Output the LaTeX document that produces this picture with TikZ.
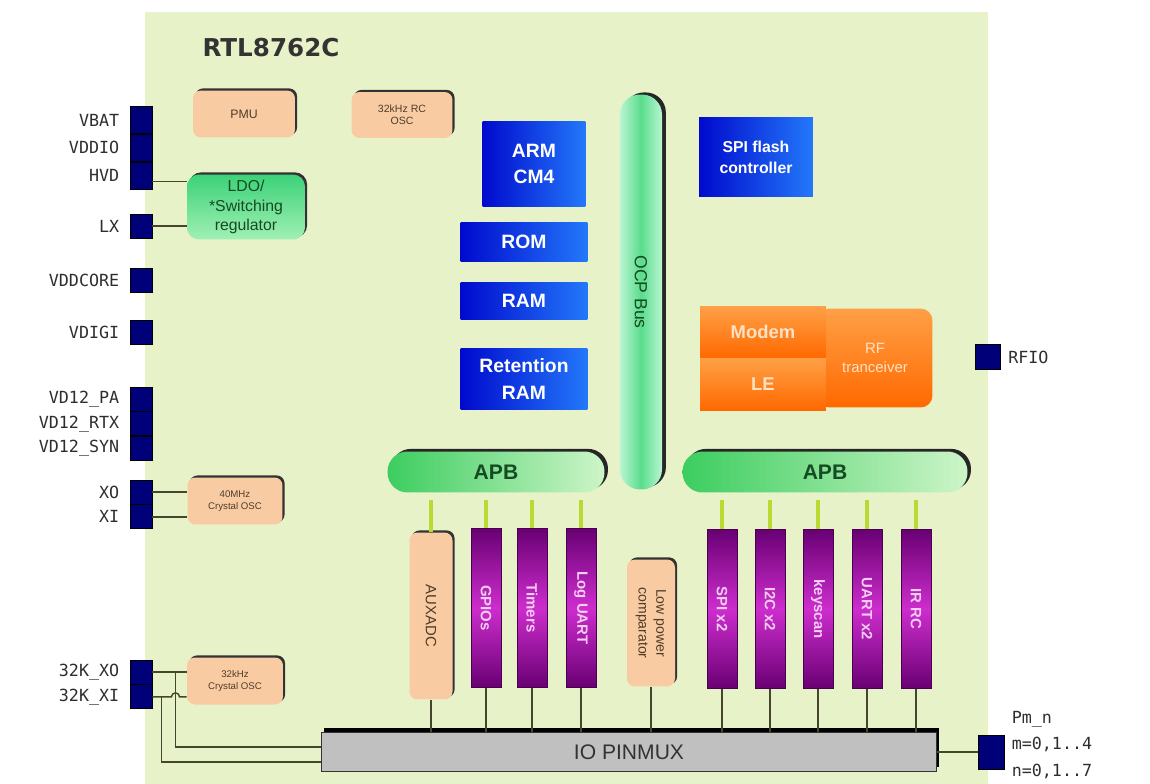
\documentclass[tikz,border=0pt]{standalone}
\usepackage{fontspec}
\setmainfont{Liberation Sans}
\newfontfamily\pinfont{DejaVu Sans Mono}
\newfontfamily\titlefont{DejaVu Sans}
\usepackage{tikz}
\usetikzlibrary{positioning}
\usetikzlibrary{calc}
\usetikzlibrary{shadows}

\definecolor{chipbg}{RGB}{232,242,200}
\definecolor{pinblue}{RGB}{0,0,120}
\definecolor{peach}{RGB}{249,203,163}
\definecolor{peachtext}{RGB}{80,60,40}
\definecolor{blueA}{RGB}{0,10,205}
\definecolor{blueB}{RGB}{35,120,250}
\definecolor{orangeA}{RGB}{255,160,70}
\definecolor{orangeB}{RGB}{255,105,0}
\definecolor{orangetext}{RGB}{255,225,195}
\definecolor{purpA}{RGB}{105,0,115}
\definecolor{purpB}{RGB}{205,45,205}
\definecolor{purptext}{RGB}{245,205,245}
\definecolor{busgreen}{RGB}{60,205,95}
\definecolor{buspale}{RGB}{205,245,200}
\definecolor{ocpmid}{RGB}{90,220,140}
\definecolor{ocpside}{RGB}{185,245,210}
\definecolor{ldoA}{RGB}{60,210,120}
\definecolor{ldoB}{RGB}{160,240,180}
\definecolor{greentext}{RGB}{20,75,35}
\definecolor{stubgreen}{RGB}{185,218,50}
\definecolor{wirecol}{RGB}{70,70,45}
\definecolor{muxgray}{RGB}{192,192,192}

\tikzset{
  pinsq/.style={draw=black, fill=pinblue, line width=0.5pt, minimum width=0.44cm, minimum height=0.48cm, inner sep=0pt},
  pinlbl/.style={inner sep=0pt, text=black!82, font=\pinfont\fontsize{9.5}{15}\selectfont},
  softbox/.style={fill=peach, rounded corners=0.16cm, general shadow={fill=black!80, shadow xshift=1.2pt, shadow yshift=1.2pt}, text=peachtext, align=center, inner sep=1pt},
  bluebox/.style={left color=blueA, right color=blueB, text=white, align=center, inner sep=0pt, font=\fontsize{11}{15}\selectfont\bfseries},
  orbox/.style={top color=orangeA, bottom color=orangeB, text=orangetext, inner sep=0pt, font=\fontsize{10.5}{13}\selectfont\bfseries},
  periph/.style={top color=purpA, bottom color=purpA, middle color=purpB, draw=purpA!70!black, line width=0.4pt, minimum width=0.6cm, minimum height=3.18cm, inner sep=0pt, text=purptext, font=\fontsize{8.5}{10}\selectfont\bfseries},
  apb/.style={left color=busgreen, right color=buspale, rounded corners=0.4cm, general shadow={fill=black!85, shadow xshift=2pt, shadow yshift=1.5pt}, minimum height=0.82cm, text=greentext, font=\fontsize{12}{14}\selectfont\bfseries},
  wire/.style={draw=wirecol, line width=0.8pt},
  stub/.style={draw=stubgreen, line width=2.6pt, shorten <=4pt}
}

\begin{document}
\begin{tikzpicture}[x=0.02cm, y=-0.02cm]
\useasboundingbox (0,0) rectangle (1150,784);
\fill[chipbg] (145,12) rectangle (988,784);
\node (title) at (271,48) {\titlefont\fontsize{14}{16}\selectfont\bfseries\color{black!80}RTL8762C};

\node (vbat) [pinsq, minimum height=0.54cm] at (141,120) {};
\node (vddio) [pinsq, minimum height=0.54cm, below=0pt of vbat] {};
\node (hvd) [pinsq, minimum height=0.54cm, below=0pt of vddio] {};
\node (lx) [pinsq] at (141,226) {};
\node (vddcore) [pinsq] at (141,280) {};
\node (vdigi) [pinsq] at (141,332) {};
\node (vdpa) [pinsq] at (141,399) {};
\node (vdrtx) [pinsq, below=0pt of vdpa] {};
\node (vdsyn) [pinsq, below=0pt of vdrtx] {};
\node (xo) [pinsq] at (141,492) {};
\node (xi) [pinsq, below=0pt of xo] {};
\node (xo32) [pinsq] at (141,672) {};
\node (xi32) [pinsq, below=0pt of xo32] {};
\node (rfio) [pinsq, minimum width=0.5cm, minimum height=0.5cm] at (988,357) {};
\node (pm) [pinsq, minimum width=0.52cm, minimum height=0.68cm] at (991,752) {};

\node [pinlbl, left=0.2cm of vbat] {VBAT};
\node [pinlbl, left=0.2cm of vddio] {VDDIO};
\node [pinlbl, left=0.2cm of hvd] {HVD};
\node [pinlbl, left=0.2cm of lx] {LX};
\node [pinlbl, left=0.2cm of vddcore] {VDDCORE};
\node [pinlbl, left=0.2cm of vdigi] {VDIGI};
\node [pinlbl, left=0.2cm of vdpa] {VD12\_PA};
\node [pinlbl, left=0.2cm of vdrtx] {VD12\_RTX};
\node [pinlbl, left=0.2cm of vdsyn] {VD12\_SYN};
\node [pinlbl, left=0.2cm of xo] {XO};
\node [pinlbl, left=0.2cm of xi] {XI};
\node [pinlbl, left=0.2cm of xo32] {32K\_XO};
\node [pinlbl, left=0.2cm of xi32] {32K\_XI};
\node [pinlbl, right=0.14cm of rfio] {RFIO};
\node (pmlbl) [pinlbl, right=0.14cm of pm, yshift=0.14cm, align=left] {Pm\_n\\m=0,1..4\\n=0,1..7};

\node (pmu) [softbox, minimum width=2.04cm, minimum height=0.94cm, font=\fontsize{7}{8}\selectfont] at (244,114) {PMU};
\node (rcosc) [softbox, minimum width=2.02cm, minimum height=0.92cm, font=\fontsize{6}{7}\selectfont] at (402,115) {32kHz RC\\OSC};
\node (ldo) [top color=ldoA, bottom color=ldoB, rounded corners=0.24cm, general shadow={fill=black!80, shadow xshift=1.2pt, shadow yshift=1.2pt}, minimum width=2.36cm, minimum height=1.3cm, inner sep=0pt, align=center, text=greentext, font=\fontsize{9}{11}\selectfont] at (246,207) {LDO/\\*Switching\\regulator};
\node (osc40) [softbox, minimum width=1.9cm, minimum height=0.94cm, font=\fontsize{5.5}{7}\selectfont] at (235,501) {40MHz\\Crystal OSC};
\node (osc32) [softbox, minimum width=1.92cm, minimum height=0.94cm, font=\fontsize{5.5}{7}\selectfont] at (235,681) {32kHz\\Crystal OSC};

\node (arm) [bluebox, minimum width=2.06cm, minimum height=1.7cm] at (534,164) {ARM\\CM4};
\node (rom) [bluebox, minimum width=2.54cm, minimum height=0.8cm] at (524,242) {ROM};
\node (ram) [bluebox, minimum width=2.54cm, minimum height=0.76cm] at (524,301) {RAM};
\node (retram) [bluebox, minimum width=2.54cm, minimum height=1.22cm] at (524,379) {Retention\\RAM};
\node (spi) [bluebox, minimum width=2.28cm, minimum height=1.58cm, font=\fontsize{9}{12}\selectfont\bfseries] at (756,157) {SPI flash\\controller};

\node (ocp) [left color=ocpside, right color=ocpside, middle color=ocpmid, rounded corners=0.4cm, general shadow={fill=black!85, shadow xshift=2.2pt, shadow yshift=1.2pt}, minimum width=0.84cm, minimum height=7.9cm, inner sep=0pt, text=greentext, font=\fontsize{10}{12}\selectfont] at (641,292) {\rotatebox{-90}{OCP Bus}};

\node (rf) [orbox, rounded corners=0.24cm, minimum width=2.3cm, minimum height=1.98cm, align=center, font=\fontsize{8.5}{11}\selectfont] at (875,358) {RF\\tranceiver};
\node (modem) [orbox, minimum width=2.52cm, minimum height=1.02cm] at (763,332) {Modem};
\node (le) [orbox, minimum width=2.52cm, minimum height=1.04cm, below=0pt of modem] {LE};

\node (apbl) [apb, minimum width=4.34cm] at (496,472) {APB};
\node (apbr) [apb, minimum width=5.7cm] at (825,472) {APB};

\node (auxadc) [softbox, minimum width=0.86cm, minimum height=3.34cm, font=\fontsize{8.5}{10}\selectfont] at (431,616) {\rotatebox{-90}{AUXADC}};
\node (gpio) [periph] at (486,608) {\rotatebox{-90}{GPIOs}};
\node (timers) [periph] at (532,608) {\rotatebox{-90}{Timers}};
\node (loguart) [periph] at (581,608) {\rotatebox{-90}{Log UART}};
\node (lpc) [softbox, minimum width=0.96cm, minimum height=2.54cm, font=\fontsize{8}{10}\selectfont] at (651,623) {\rotatebox{-90}{\begin{tabular}{@{}c@{}}Low power\\comparator\end{tabular}}};
\node (spix2) [periph] at (722,609) {\rotatebox{-90}{SPI x2}};
\node (i2cx2) [periph] at (770,609) {\rotatebox{-90}{I2C x2}};
\node (keyscan) [periph] at (818,609) {\rotatebox{-90}{keyscan}};
\node (uartx2) [periph] at (867,609) {\rotatebox{-90}{UART x2}};
\node (irrc) [periph] at (916,609) {\rotatebox{-90}{IR RC}};

\node (pinmux) [fill=muxgray, draw=black!80, line width=0.5pt, general shadow={fill=black, shadow xshift=1.5pt, shadow yshift=2.5pt}, minimum width=12.3cm, minimum height=0.78cm, text=black!80, font=\fontsize{12}{14}\selectfont] at (629,752) {IO PINMUX};

\coordinate (hvdw) at ($(hvd.east)+(0,6)$);
\draw[wire] (hvdw) -- (hvdw -| ldo.west);
\draw[wire] (lx.east) -- (lx -| ldo.west);
\draw[wire] (xo.east) -- (xo -| osc40.west);
\draw[wire] (xi.east) -- (xi -| osc40.west);
\draw[wire] (xo32.east) -- (xo32 -| osc32.west);
\draw[wire] (xi32.east) -- ++(19,0) arc[start angle=180, end angle=0, radius=2.3pt] -- (xi32 -| osc32.west);
\draw[wire] ($(pinmux.west)+(0,-5)$) -| ($(xo32.east)+(23,0)$);
\draw[wire] ($(pinmux.west)+(0,10)$) -| ($(xi32.east)+(9,0)$);
\draw[wire] (pinmux.east) -- (pm.west);

\foreach \p in {auxadc,gpio,timers,loguart}
  \draw[stub] (\p.north |- apbl.south) -- (\p.north);
\foreach \p in {spix2,i2cx2,keyscan,uartx2,irrc}
  \draw[stub] (\p.north |- apbr.south) -- (\p.north);
\foreach \p in {auxadc,gpio,timers,loguart,lpc,spix2,i2cx2,keyscan,uartx2,irrc}
  \draw[wire] (\p.south) -- (\p.south |- pinmux.north);
\end{tikzpicture}
\end{document}
